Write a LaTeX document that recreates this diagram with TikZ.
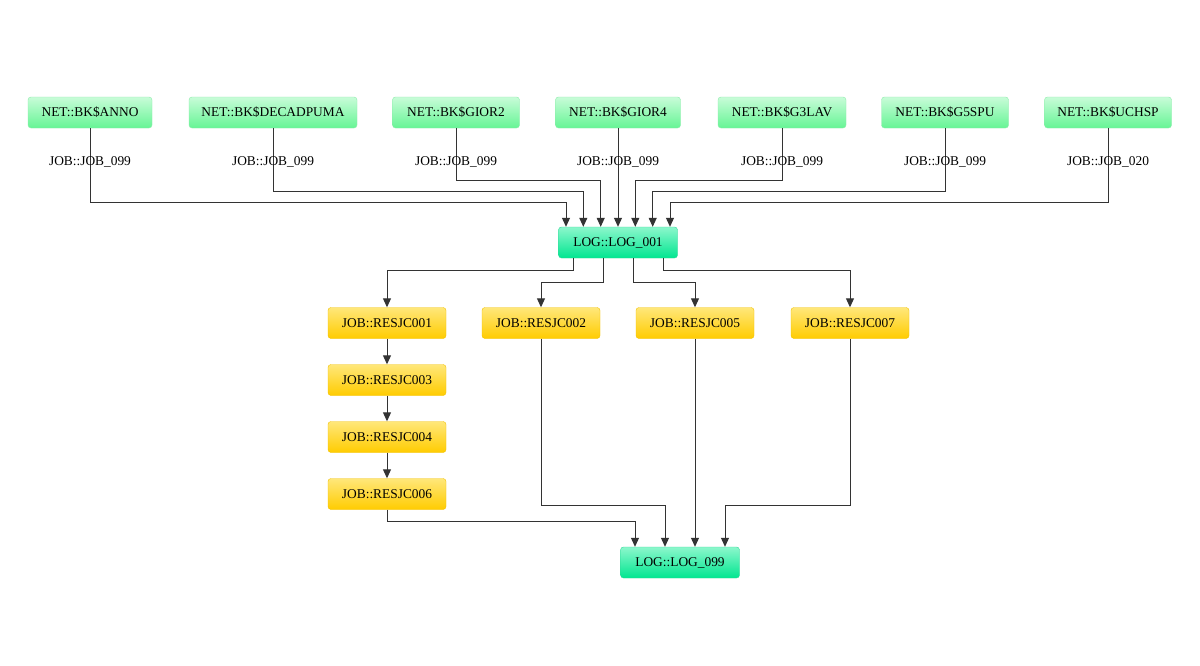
\documentclass[tikz,border=0pt]{standalone}
\usepackage{fontspec}
\setmainfont{Liberation Serif}
\usetikzlibrary{arrows.meta}
\definecolor{netTop}{HTML}{C8FCD8}
\definecolor{netBot}{HTML}{66F595}
\definecolor{netLine}{HTML}{8CECAA}
\definecolor{logTop}{HTML}{8CF7CC}
\definecolor{logBot}{HTML}{00E690}
\definecolor{logLine}{HTML}{30D898}
\definecolor{jobTop}{HTML}{FFE77A}
\definecolor{jobBot}{HTML}{FFCC00}
\definecolor{jobLine}{HTML}{F2C200}
\definecolor{linkGray}{HTML}{333333}
\tikzset{
  box/.style={draw, rounded corners=3pt, minimum height=31pt, inner sep=0pt,
    font=\fontsize{13.4}{15}\selectfont},
  net/.style={box, draw=netLine, top color=netTop, bottom color=netBot, minimum width=127pt},
  log/.style={box, draw=logLine, top color=logTop, bottom color=logBot, minimum width=119pt},
  job/.style={box, draw=jobLine, top color=jobTop, bottom color=jobBot, minimum width=118pt},
  link/.style={draw=linkGray, line width=1pt, -{Triangle[width=8pt,length=9pt]}},
  lbl/.style={font=\fontsize{13.4}{15}\selectfont, inner sep=0pt}
}
\begin{document}
\begin{tikzpicture}[x=1pt, y=-1pt]
\useasboundingbox[fill=white] (0,0) rectangle (1200,665);
% Sources
\node[net, minimum width=124pt] (anno) at (90,112.5) {NET::BK\$ANNO};
\node[net, minimum width=168pt] (decad) at (273,112.5) {NET::BK\$DECADPUMA};
\node[net] (gior2) at (456,112.5) {NET::BK\$GIOR2};
\node[net, minimum width=125pt] (gior4) at (618,112.5) {NET::BK\$GIOR4};
\node[net, minimum width=128pt] (g3lav) at (782,112.5) {NET::BK\$G3LAV};
\node[net] (g5spu) at (945,112.5) {NET::BK\$G5SPU};
\node[net] (uchsp) at (1108,112.5) {NET::BK\$UCHSP};
% Logs
\node[log] (log1) at (618,242.5) {LOG::LOG\_001};
\node[log] (log99) at (680,562.5) {LOG::LOG\_099};
% Jobs
\node[job] (r001) at (387,323) {JOB::RESJC001};
\node[job] (r002) at (541,323) {JOB::RESJC002};
\node[job] (r005) at (695,323) {JOB::RESJC005};
\node[job] (r007) at (850,323) {JOB::RESJC007};
\node[job] (r003) at (387,380) {JOB::RESJC003};
\node[job] (r004) at (387,437) {JOB::RESJC004};
\node[job] (r006) at (387,494) {JOB::RESJC006};
% Sources -> LOG_001
\draw[link] (anno.south) -- ++(0,74) -| ([xshift=-52pt]log1.north);
\draw[link] (decad.south) -- ++(0,63) -| ([xshift=-34.7pt]log1.north);
\draw[link] (gior2.south) -- ++(0,52) -| ([xshift=-17.3pt]log1.north);
\draw[link] (gior4.south) -- (log1.north);
\draw[link] (g3lav.south) -- ++(0,52) -| ([xshift=17.3pt]log1.north);
\draw[link] (g5spu.south) -- ++(0,63) -| ([xshift=34.7pt]log1.north);
\draw[link] (uchsp.south) -- ++(0,74) -| ([xshift=52pt]log1.north);
% Edge labels
\node[lbl] (j1) at (anno.south |- 0,162) {JOB::JOB\_099};
\node[lbl] (j2) at (decad.south |- 0,162) {JOB::JOB\_099};
\node[lbl] (j3) at (gior2.south |- 0,162) {JOB::JOB\_099};
\node[lbl] (j4) at (gior4.south |- 0,162) {JOB::JOB\_099};
\node[lbl] (j5) at (g3lav.south |- 0,162) {JOB::JOB\_099};
\node[lbl] (j6) at (g5spu.south |- 0,162) {JOB::JOB\_099};
\node[lbl] (j7) at (uchsp.south |- 0,162) {JOB::JOB\_020};
% LOG_001 -> jobs
\draw[link] ([xshift=-45pt]log1.south) -- ++(0,12) -| (r001.north);
\draw[link] ([xshift=-15pt]log1.south) -- ++(0,24) -| (r002.north);
\draw[link] ([xshift=15pt]log1.south) -- ++(0,24) -| (r005.north);
\draw[link] ([xshift=45pt]log1.south) -- ++(0,12) -| (r007.north);
% Chain
\draw[link] (r001) -- (r003);
\draw[link] (r003) -- (r004);
\draw[link] (r004) -- (r006);
% Jobs -> LOG_099
\draw[link] (r006.south) -- ++(0,11.5) -| ([xshift=-45pt]log99.north);
\draw[link] (r002.south) -- ++(0,166.5) -| ([xshift=-15pt]log99.north);
\draw[link] (r005.south) -- (r005.south |- log99.north);
\draw[link] (r007.south) -- ++(0,166.5) -| ([xshift=45pt]log99.north);
\end{tikzpicture}
\end{document}
